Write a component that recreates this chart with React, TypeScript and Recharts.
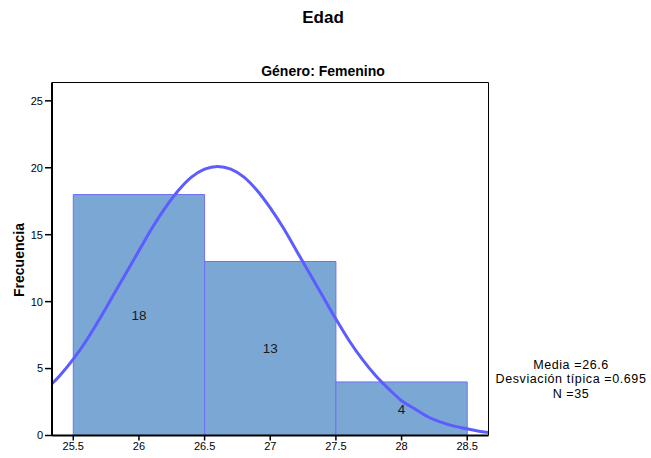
import {
  ComposedChart,
  Line,
  ReferenceArea,
  ReferenceLine,
  XAxis,
  YAxis,
} from 'recharts'

// Histograma de Edad (Género: Femenino) con curva normal
const binStart = [25.5, 26.5, 27.5]
const binEnd = [26.5, 27.5, 28.5]
const binCount = [18, 13, 4]

// curva normal
const curveX = [
  25.3, 25.4, 25.5, 25.6, 25.7, 25.8, 25.9, 26.0, 26.1, 26.2, 26.3, 26.4,
  26.5, 26.6, 26.7, 26.8, 26.9, 27.0, 27.1, 27.2, 27.3, 27.4, 27.5, 27.6,
  27.7, 27.8, 27.9, 28.0, 28.1, 28.2, 28.3, 28.4, 28.5, 28.6, 28.7,
]
const curveY = [
  3.5, 4.5, 5.7, 7.1, 8.7, 10.4, 12.1, 13.8, 15.5, 17.0, 18.3, 19.3,
  19.9, 20.1, 19.9, 19.3, 18.3, 17.0, 15.5, 13.8, 12.1, 10.4, 8.7, 7.1,
  5.7, 4.5, 3.5, 2.6, 2.0, 1.4, 1.0, 0.7, 0.5, 0.3, 0.2,
]

const xTicks = [25.5, 26, 26.5, 27, 27.5, 28, 28.5]
const yTicks = [0, 5, 10, 15, 20, 25]
const statLines = ['Media =26.6', 'Desviación típica =0.695', 'N =35']

const FONT = '"Liberation Sans", Arial, Helvetica, sans-serif'
const xDomain: [number, number] = [25.338, 28.662]
const yDomain: [number, number] = [0, 26.37]

export default function App() {
  const rows = curveX.map((x, i) => ({ x, y: curveY[i] }))

  return (
    <div
      style={{
        position: 'absolute',
        left: 0,
        top: 0,
        width: 651,
        height: 458,
        background: '#fff',
        fontFamily: FONT,
      }}
    >
      <div
        style={{
          position: 'absolute',
          left: 0,
          width: 646,
          top: 8,
          textAlign: 'center',
          fontWeight: 'bold',
          fontSize: 17,
          color: '#000',
        }}
      >
        Edad
      </div>
      <div
        style={{
          position: 'absolute',
          left: 0,
          width: 646,
          top: 63,
          textAlign: 'center',
          fontWeight: 'bold',
          fontSize: 14,
          color: '#000',
        }}
      >
        Género: Femenino
      </div>
      <div
        style={{
          position: 'absolute',
          left: 19,
          top: 260,
          transform: 'translate(-50%, -50%) rotate(-90deg)',
          fontWeight: 'bold',
          fontSize: 14,
          whiteSpace: 'nowrap',
          color: '#000',
        }}
      >
        Frecuencia
      </div>
      <div
        style={{
          position: 'absolute',
          left: 491,
          width: 160,
          top: 357.75,
          textAlign: 'center',
          fontSize: 12.5,
          letterSpacing: 0.6,
          lineHeight: '14.5px',
          color: '#000',
        }}
      >
        {statLines.map((s) => (
          <div key={s}>{s}</div>
        ))}
      </div>
      <ComposedChart
        width={651}
        height={458}
        data={rows}
        margin={{ top: 82.5, right: 162.5, bottom: 2.5, left: 12 }}
        style={{ position: 'absolute', left: 0, top: 0 }}
      >
        <XAxis
          dataKey="x"
          type="number"
          domain={xDomain}
          ticks={xTicks}
          allowDataOverflow
          height={20}
          stroke="#000"
          axisLine={{ stroke: '#000', strokeWidth: 2 }}
          tickLine={{ stroke: '#000', strokeWidth: 1.5 }}
          tickSize={5}
          tick={{ fontSize: 11, fill: '#000', fontFamily: FONT }}
          interval={0}
        />
        <YAxis
          type="number"
          domain={yDomain}
          ticks={yTicks}
          allowDataOverflow
          width={40}
          axisLine={{ stroke: '#000', strokeWidth: 2 }}
          tickLine={{ stroke: '#000', strokeWidth: 1.5 }}
          tickSize={7}
          tick={{ fontSize: 11, fill: '#000', fontFamily: FONT }}
          interval={0}
        />
        {binCount.map((c, i) => (
          <ReferenceArea
            key={i}
            x1={binStart[i]}
            x2={binEnd[i]}
            y1={0}
            y2={c}
            fill="#7ba7d5"
            fillOpacity={1}
            stroke="#6f6ff5"
            strokeWidth={1}
            ifOverflow="visible"
            label={{
              value: String(c),
              position: 'center',
              fill: '#1a1a1a',
              fontSize: 13.5,
              fontFamily: FONT,
            }}
          />
        ))}
        <Line
          dataKey="y"
          type="monotone"
          stroke="#5c5cff"
          strokeWidth={3}
          dot={false}
          activeDot={false}
          isAnimationActive={false}
        />
        <ReferenceLine y={yDomain[1]} stroke="#000" strokeWidth={1} ifOverflow="visible" />
        <ReferenceLine x={xDomain[1]} stroke="#000" strokeWidth={1} ifOverflow="visible" />
      </ComposedChart>
    </div>
  )
}
